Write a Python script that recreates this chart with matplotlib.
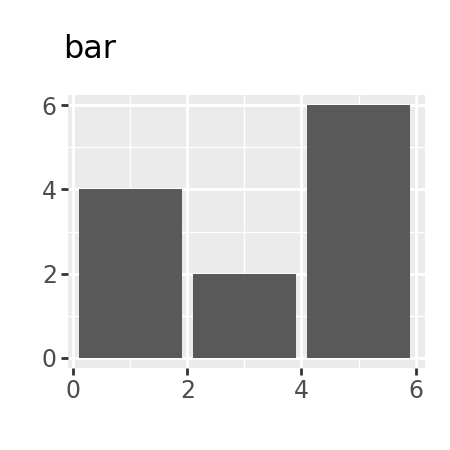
import matplotlib
matplotlib.use("Agg")
import matplotlib.pyplot as plt

x = [1, 3, 5]
heights = [4, 2, 6]
xticks = [0, 2, 4, 6]
yticks = [0, 2, 4, 6]

fig = plt.figure(figsize=(4.5, 4.5), dpi=100)
ax = fig.add_axes([0.151, 0.182, 0.793, 0.607])
ax.set_facecolor("#EBEBEB")
ax.set_xlim(-0.09, 6.16)
ax.set_ylim(-0.24, 6.24)
ax.set_xticks(xticks)
ax.set_yticks(yticks)
ax.set_xticks([1, 3, 5], minor=True)
ax.set_yticks([1, 3, 5], minor=True)
ax.grid(which="major", color="white", linewidth=2)
ax.grid(which="minor", color="white", linewidth=1)
ax.set_axisbelow(True)
ax.bar(x, heights, width=1.8, color="#595959", zorder=3)
for s in ax.spines.values():
    s.set_visible(False)
ax.tick_params(which="major", length=5, width=2, color="#333333",
               labelsize=17, labelcolor="#4D4D4D", pad=3)
ax.tick_params(which="minor", length=0)
fig.text(0.14, 0.87, "bar", fontsize=23, color="black", ha="left", va="baseline")
fig.savefig("out.png", dpi=100)
